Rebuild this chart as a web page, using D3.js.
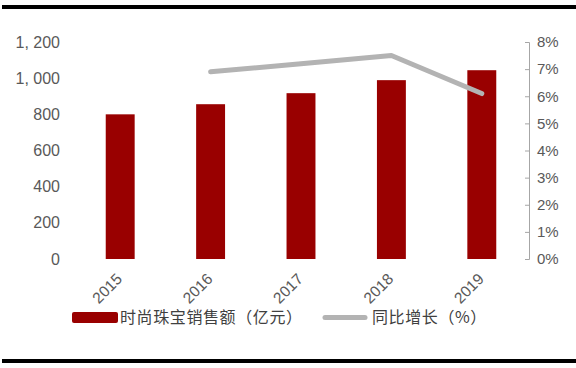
<!DOCTYPE html>
<html>
<head>
<meta charset="utf-8">
<script src="https://cdn.jsdelivr.net/npm/d3@7/dist/d3.min.js"></script>
<style>
  body { margin: 0; background: #fff; }
  text { font-family: "Liberation Sans", Arial, sans-serif; }
  .cn { font-family: "Noto Sans CJK SC", sans-serif; }
</style>
</head>
<body>
<script>
// data
var years = ["2015", "2016", "2017", "2018", "2019"];
var sales = [800, 856, 917, 989, 1044];          // 时尚珠宝销售额（亿元）
var growth = [null, 6.9, 7.2, 7.5, 6.1];         // 同比增长（%）
var leftTicks = [0, 200, 400, 600, 800, 1000, 1200];
var leftLabels = ["0", "200", "400", "600", "800", "1, 000", "1, 200"];
var rightTicks = [0, 1, 2, 3, 4, 5, 6, 7, 8];
var barName = "时尚珠宝销售额（亿元）";
var lineName = "同比增长（%）";

var screen = {width: 576, height: 368};

var svg = d3.select("body")
            .append("svg")
            .attr("width", screen.width)
            .attr("height", screen.height);

// black rules top and bottom
svg.append("rect").attr("x", 2).attr("y", 5).attr("width", 574).attr("height", 4).attr("fill", "#000");
svg.append("rect").attr("x", 2).attr("y", 359).attr("width", 574).attr("height", 4).attr("fill", "#000");

var x = d3.scaleBand()
          .domain(years)
          .range([75, 527])
          .paddingInner(0.68)
          .paddingOuter(0.34);

var yLeft = d3.scaleLinear().domain([0, 1200]).range([259, 42]);
var yRight = d3.scaleLinear().domain([0, 8]).range([259, 42]);

// left axis (labels only)
var leftAxis = d3.axisLeft(yLeft)
                 .tickValues(leftTicks)
                 .tickSize(0)
                 .tickPadding(0)
                 .tickFormat(function(d, i) { return leftLabels[i]; });

var gl = svg.append("g")
            .attr("transform", "translate(60,0)")
            .call(leftAxis);
gl.select(".domain").remove();
gl.selectAll("text")
  .attr("fill", "#595959")
  .style("font-size", "16px");

// right axis
var rightAxis = d3.axisRight(yRight)
                  .tickValues(rightTicks)
                  .tickSizeInner(-4)
                  .tickSizeOuter(-4)
                  .tickPadding(8)
                  .tickFormat(function(d) { return d + "%"; });

var gr = svg.append("g")
            .attr("transform", "translate(529,0)")
            .call(rightAxis);
gr.select(".domain").attr("stroke", "#a6a6a6");
gr.selectAll(".tick line").attr("stroke", "#a6a6a6");
gr.selectAll("text")
  .attr("fill", "#595959")
  .style("font-size", "15px");

// bars
svg.append("g")
   .selectAll("rect")
   .data(sales)
   .enter()
   .append("rect")
   .attr("x", function(d, i) { return x(years[i]); })
   .attr("y", function(d) { return yLeft(d); })
   .attr("width", x.bandwidth())
   .attr("height", function(d) { return yLeft(0) - yLeft(d); })
   .attr("fill", "#990000");

// growth line
var pts = growth.map(function(d, i) { return {year: years[i], v: d}; })
                .filter(function(d) { return d.v != null; });

var line = d3.line()
             .x(function(d) { return x(d.year) + x.bandwidth() / 2; })
             .y(function(d) { return yRight(d.v); });

svg.append("path")
   .datum(pts)
   .attr("d", line)
   .attr("fill", "none")
   .attr("stroke", "#b3b3b3")
   .attr("stroke-width", 5)
   .attr("stroke-linecap", "round")
   .attr("stroke-linejoin", "round");

// year labels, rotated
svg.append("g")
   .selectAll("text")
   .data(years)
   .enter()
   .append("text")
   .attr("transform", function(d) {
     return "translate(" + (x(d) + x.bandwidth() / 2 + 3) + ",280) rotate(-45)";
   })
   .attr("text-anchor", "end")
   .attr("fill", "#595959")
   .style("font-size", "15.5px")
   .text(function(d) { return d; });

// legend
var legend = svg.append("g");

legend.append("rect")
      .attr("x", 72)
      .attr("y", 312)
      .attr("width", 46)
      .attr("height", 11)
      .attr("rx", 2)
      .attr("fill", "#990000");

legend.append("text")
      .attr("class", "cn")
      .attr("x", 120)
      .attr("y", 323)
      .attr("fill", "#404040")
      .style("font-size", "16px")
      .style("letter-spacing", "0.6px")
      .text(barName);

legend.append("line")
      .attr("x1", 325)
      .attr("x2", 365)
      .attr("y1", 317.5)
      .attr("y2", 317.5)
      .attr("stroke", "#b3b3b3")
      .attr("stroke-width", 5)
      .attr("stroke-linecap", "round");

legend.append("text")
      .attr("class", "cn")
      .attr("x", 372)
      .attr("y", 323)
      .attr("fill", "#404040")
      .style("font-size", "16px")
      .style("letter-spacing", "0.6px")
      .text(lineName);
</script>
</body>
</html>
